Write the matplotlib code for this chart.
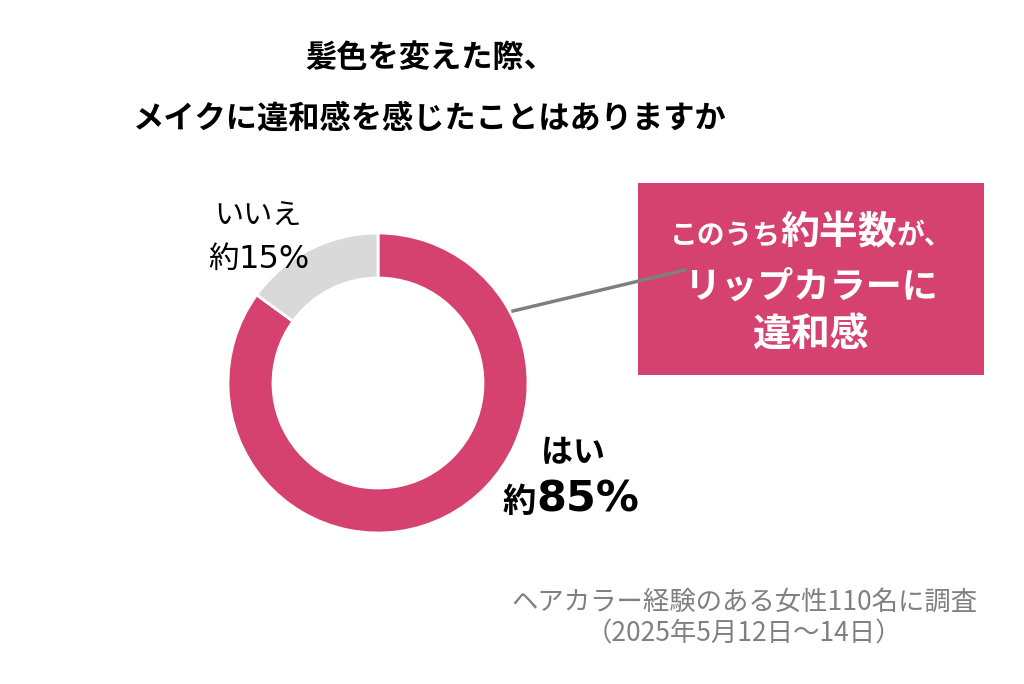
import matplotlib
matplotlib.use("Agg")
import matplotlib.pyplot as plt
from matplotlib.patches import Rectangle

plt.rcParams["font.family"] = ["Noto Sans CJK JP", "DejaVu Sans"]

# data
labels = ["はい", "いいえ"]
shares = [85, 15]
colors = ["#D64270", "#D9D9D9"]

title_lines = ["髪色を変えた際、", "メイクに違和感を感じたことはありますか"]
note_lines = ["ヘアカラー経験のある女性110名に調査", "（2025年5月12日～14日）"]
callout_lines = [
    [("このうち", 20), ("約半数", 28), ("が、", 20)],
    [("リップカラーに", 26)],
    [("違和感", 28)],
]

W, H = 1024, 684
fig = plt.figure(figsize=(W / 100, H / 100), dpi=100)
ax = fig.add_axes([0, 0, 1, 1])


def Y(y):
    # pixel row (from top) -> data y
    return H - y


ax.pie(shares, colors=colors, startangle=90, counterclock=False,
       center=(378, Y(383)), radius=150,
       wedgeprops=dict(width=45, edgecolor="white", linewidth=2))
ax.set_xlim(0, W)
ax.set_ylim(0, H)
ax.set_aspect("equal")
ax.axis("off")

renderer = fig.canvas.get_renderer()
CJK = ["Noto Sans CJK JP", "DejaVu Sans"]
LAT = ["DejaVu Sans"]


def row(parts, xc, yb, color, weight="bold"):
    # lay out mixed-size pieces on one baseline, centred on xc
    items = []
    for p in parts:
        s, fs = p[0], p[1]
        fam = p[2] if len(p) > 2 else CJK
        items.append(ax.text(0, yb, s, fontsize=fs, color=color, weight=weight,
                             family=fam, ha="left", va="baseline", zorder=5))
    widths = [t.get_window_extent(renderer).width for t in items]
    x = xc - sum(widths) / 2
    for t, w in zip(items, widths):
        t.set_x(x)
        x += w


# title
ax.text(430, Y(58), title_lines[0], fontsize=22.5, weight="bold",
        ha="center", va="center")
ax.text(430, Y(119), title_lines[1], fontsize=22.5, weight="bold",
        ha="center", va="center")

# slice labels
ax.text(258, Y(225), labels[1], fontsize=21, ha="center", va="baseline")
row([("約", 22), (str(shares[1]) + "%", 23, LAT)], 259, Y(268), "black",
    weight="normal")
ax.text(573, Y(462), labels[0], fontsize=23, weight="bold",
        ha="center", va="baseline")
row([("約", 24), (str(shares[0]) + "%", 31, LAT)], 571, Y(512), "black")

# callout
ax.add_patch(Rectangle((638, Y(375)), 346, 192, facecolor=colors[0],
                       edgecolor="none", zorder=3))
ax.plot([513, 685], [Y(311), Y(270)], color="#7F7F7F", lw=2.5, zorder=4)
for parts, yb in zip(callout_lines, [244, 298, 347]):
    row(parts, 811, Y(yb), "white")

# survey note
ax.text(744, Y(610), note_lines[0], fontsize=19, color="#808080",
        ha="center", va="baseline")
ax.text(744, Y(641), note_lines[1], fontsize=19, color="#808080",
        ha="center", va="baseline")

fig.savefig("out.png", dpi=100)
